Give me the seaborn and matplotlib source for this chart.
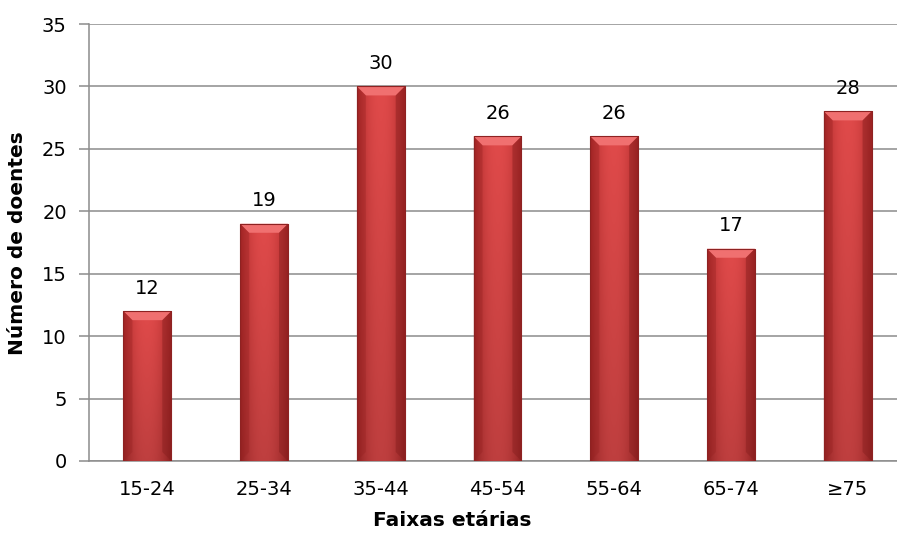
import numpy as np
import pandas as pd
import matplotlib
matplotlib.use("Agg")
import matplotlib.pyplot as plt
from matplotlib.patches import Polygon
import seaborn as sns

categories = ["15-24", "25-34", "35-44", "45-54", "55-64", "65-74", "≥75"]
values = [12, 19, 30, 26, 26, 17, 28]
y_ticks = [0, 5, 10, 15, 20, 25, 30, 35]

sns.set_theme(style="white")
plt.rcParams["font.family"] = ["DejaVu Sans"]

W, H = 897, 536
fig = plt.figure(figsize=(W / 100, H / 100), dpi=100)
left_px, right_px, top_px, bottom_px = 89, 906, 24, 461
ax_w, ax_h = (right_px - left_px), (bottom_px - top_px)
ax = fig.add_axes([left_px / W, 1 - bottom_px / H, ax_w / W, ax_h / H])

df = pd.DataFrame({"faixa": categories, "n": values})
sns.barplot(data=df, x="faixa", y="n", color="#C83A3A", width=0.41,
            saturation=1, ax=ax, zorder=3, edgecolor="#8E2222", linewidth=0.6)

ax.set_ylim(0, 35)
ax.set_xlim(-0.5, len(categories) - 0.5)
ax.set_yticks(y_ticks)
ax.yaxis.grid(True, color="#8C8C8C", linewidth=1.1, zorder=0)
ax.set_axisbelow(True)

for side in ["top", "right"]:
    ax.spines[side].set_visible(False)
for side in ["left", "bottom"]:
    ax.spines[side].set_color("#8C8C8C")
    ax.spines[side].set_linewidth(1.1)
ax.tick_params(axis="y", which="both", left=True, length=7, width=1.1,
               color="#8C8C8C", labelsize=14, pad=9, labelcolor="black")
ax.tick_params(axis="x", bottom=False, labelsize=14, pad=8, labelcolor="black")

ax.set_xlabel("Faixas etárias", fontsize=14.5, fontweight="bold", color="black")
ax.set_ylabel("Número de doentes", fontsize=14.5, fontweight="bold", color="black")
ax.xaxis.label.set_va("center")
ax.yaxis.label.set_va("center")
ax.xaxis.set_label_coords((452 - left_px) / ax_w, (bottom_px - 521) / ax_h)
ax.yaxis.set_label_coords((18 - left_px) / ax_w, (bottom_px - 243) / ax_h)

# Shaded fill for each bar: darker edges, brighter middle, bevelled top
px_x = 1 / (ax_w / len(categories))
px_y = 35 / ax_h
c_mid = np.array([224, 74, 74]) / 255
c_edge = np.array([168, 38, 38]) / 255
c_light = np.array([240, 112, 112]) / 255
for patch, val in zip(ax.patches, values):
    x0, w = patch.get_x(), patch.get_width()
    h = patch.get_height()
    u = np.linspace(-1, 1, 80)
    prof = np.clip(1 - np.abs(u) ** 2.2, 0, 1)
    v = np.linspace(0, 1, 120)[:, None]
    shade = 0.85 + 0.15 * v
    img = (c_edge[None, None, :] + (c_mid - c_edge)[None, None, :] * prof[None, :, None]) * shade[:, :, None]
    img = np.clip(img, 0, 1)
    im = ax.imshow(img, extent=[x0, x0 + w, 0, h], origin="lower",
                   aspect="auto", zorder=3.5, interpolation="bilinear")
    im.set_clip_path(patch)
    bx, by = 9 * px_x, 9 * px_y
    top = Polygon([[x0, h], [x0 + w, h], [x0 + w - bx, h - by], [x0 + bx, h - by]],
                  closed=True, facecolor=c_light, edgecolor="none", zorder=3.6)
    ax.add_patch(top)
    lside = Polygon([[x0, h], [x0 + bx, h - by], [x0 + bx, by], [x0, 0]],
                    closed=True, facecolor=c_edge * 0.9, alpha=0.35, edgecolor="none", zorder=3.6)
    rside = Polygon([[x0 + w, h], [x0 + w - bx, h - by], [x0 + w - bx, by], [x0 + w, 0]],
                    closed=True, facecolor=c_edge * 0.8, alpha=0.45, edgecolor="none", zorder=3.6)
    ax.add_patch(lside)
    ax.add_patch(rside)
    ax.add_patch(Polygon([[x0, h], [x0 + w, h], [x0 + w, 0], [x0, 0]], closed=True,
                         facecolor="none", edgecolor="#8E2222", linewidth=0.8, zorder=3.7))
    ax.annotate(f"{val}", xy=(x0 + w / 2, h), xytext=(0, 12.5), textcoords="offset points",
                ha="center", va="baseline", fontsize=14, color="black", zorder=4)

fig.savefig("out.png", dpi=100)
